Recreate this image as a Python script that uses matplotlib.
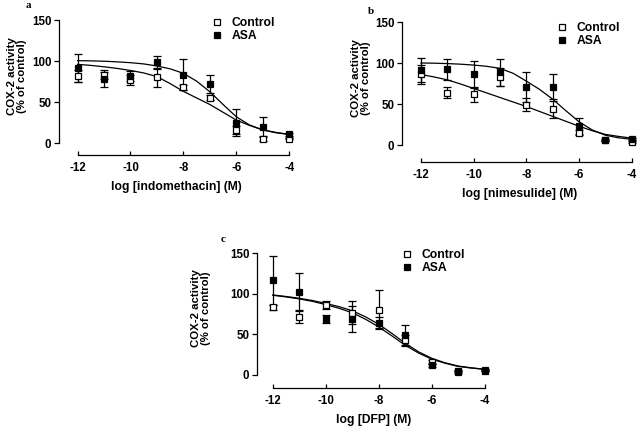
import matplotlib
matplotlib.use('Agg')
import matplotlib.pyplot as plt
import numpy as np

plt.rcParams['font.family'] = ['Liberation Sans', 'DejaVu Sans']
plt.rcParams['font.weight'] = 'bold'
plt.rcParams['font.size'] = 8.7
plt.rcParams['axes.unicode_minus'] = False

# concentrations (log M)
log_conc = [-12, -11, -10, -9, -8, -7, -6, -5, -4]
fit_x = [-12, -11.5, -11, -10.5, -10, -9.5, -9, -8.5, -8, -7.5, -7,
         -6.5, -6, -5.5, -5, -4.5, -4]

# panel a: indomethacin
ctrl_a = [81.5, 83.5, 77, 80, 68, 55.5, 15.5, 5, 5.5]
ctrl_a_err = [7, 6, 6, 12, 3, 3, 5, 2, 1]
asa_a = [91.5, 77.5, 82, 98.5, 83.5, 71.5, 25, 20, 10.5]
asa_a_err = [17, 9, 6, 8, 19, 11, 16, 12, 2]
ctrl_a_fit = [96, 94.7, 93, 91, 88.5, 85.5, 81, 72.5, 63, 55, 47, 37.5,
              28, 21.5, 16, 13, 10.5]
asa_a_fit = [100.5, 100.2, 99.8, 99, 98, 96.5, 94, 90.5, 85, 75.5, 62.5,
             47, 32, 22, 16, 12.5, 10.5]

# panel b: nimesulide
ctrl_b = [86, 64, 62, 82.5, 49, 43.5, 15, 5.5, 4]
ctrl_b_err = [11, 7, 9, 11, 8, 10, 3, 1, 1]
asa_b = [91.5, 92.5, 86, 88.5, 70.5, 71, 23, 6, 7]
asa_b_err = [15, 13, 17, 17, 18, 15, 10, 1, 1]
ctrl_b_fit = [86, 83, 79.5, 74.5, 69, 63.5, 58, 52.5, 47, 41, 35, 29, 23,
              17.5, 13, 10.5, 8.5]
asa_b_fit = [100, 99.8, 99.3, 98.6, 97.5, 96, 93.5, 87.5, 78, 68, 56, 42,
             28.5, 18.5, 12, 8.8, 7]

# panel c: DFP
ctrl_c = [83, 71.5, 86, 76.5, 80, 43, 16, 4, 6]
ctrl_c_err = [3, 7, 5, 14, 24, 6, 2, 1, 1]
asa_c = [116.5, 102.5, 68.5, 68.5, 64.5, 49, 12, 5.5, 5.5]
asa_c_err = [30, 23, 5, 16, 7, 13, 2, 1, 1]
ctrl_c_fit = [98.4, 96.5, 94.3, 91.5, 88, 84, 79, 71.5, 62.3, 51, 39, 28.5,
              20.5, 15, 11, 8.8, 7]
asa_c_fit = [98, 96, 93.5, 90.5, 86.5, 82, 76.5, 68.5, 59, 48, 36.5, 27,
             19.5, 14.5, 10.5, 8.5, 7]

W, H = 640, 430

# (letter, x label, axes rect, x min, y min, legend corner px, ylabel x px, letter px)
panels = [
    ('a', 'log [indomethacin] (M)', [0.0922, 0.6395, 0.368, 0.3177], -12.7, -14.6,
     (212, 17), 17, (26, 5),
     ctrl_a, ctrl_a_err, asa_a, asa_a_err, ctrl_a_fit, asa_a_fit),
    ('b', 'log [nimesulide] (M)', [0.628, 0.6233, 0.367, 0.3293], -12.72, -20.7,
     (557, 22), 361, (368, 12),
     ctrl_b, ctrl_b_err, asa_b, asa_b_err, ctrl_b_fit, asa_b_fit),
    ('c', 'log [DFP] (M)', [0.4016, 0.0977, 0.364, 0.3177], -12.6, -16.0,
     (402, 249), 201, (221, 239),
     ctrl_c, ctrl_c_err, asa_c, asa_c_err, ctrl_c_fit, asa_c_fit),
]

fig = plt.figure(figsize=(6.4, 4.3), dpi=100)

for (tag, xlab, rect, xmin, ymin, leg_px, ylab_px, tag_px,
     ctrl, ctrl_err, asa, asa_err, ctrl_fit, asa_fit) in panels:
    ax = fig.add_axes(rect)
    ax.plot(fit_x, ctrl_fit, color='black', lw=0.9, zorder=2)
    ax.plot(fit_x, asa_fit, color='black', lw=0.9, zorder=2)
    ax.errorbar(log_conc, ctrl, yerr=ctrl_err, fmt='none', ecolor='black',
                elinewidth=0.9, capsize=3, capthick=0.9, zorder=3)
    ax.errorbar(log_conc, asa, yerr=asa_err, fmt='none', ecolor='black',
                elinewidth=0.9, capsize=3, capthick=0.9, zorder=3)
    ax.plot(log_conc, ctrl, ls='none', marker='s', ms=4.7, mfc='white',
            mec='black', mew=0.9, label='Control', zorder=4)
    ax.plot(log_conc, asa, ls='none', marker='s', ms=4.7, mfc='black',
            mec='black', mew=0.9, label='ASA', zorder=5)

    ax.set_xlim(xmin, -3.8)
    ax.set_ylim(ymin, 152)
    for s in ['top', 'right']:
        ax.spines[s].set_visible(False)
    ax.spines['left'].set_bounds(0, 150)
    ax.spines['bottom'].set_bounds(-12, -4)
    ax.spines['left'].set_linewidth(0.9)
    ax.spines['bottom'].set_linewidth(0.9)
    ax.set_xticks([-12, -10, -8, -6, -4])
    ax.set_yticks([0, 50, 100, 150])
    ax.tick_params(axis='y', length=3.5, width=0.9, pad=2, labelsize=8.3)
    ax.tick_params(axis='x', direction='in', length=3, width=0.9, pad=5,
                   labelsize=8.3)
    ax.set_xlabel(xlab, fontsize=8.7, fontweight='bold', labelpad=5)
    ax.set_ylabel('COX-2 activity\n(% of control)', fontsize=8.2,
                  fontweight='bold', linespacing=1.1)
    # place y label centre in pixels (x) and at data value 82 (y)
    ax_left_px = rect[0] * W
    ax_w_px = rect[2] * W
    ylab_y = (82 - ymin) / (152 - ymin)
    ax.yaxis.set_label_coords((ylab_px - ax_left_px) / ax_w_px, ylab_y)
    ax.yaxis.label.set_va('center')

    ax.legend(loc='upper left', bbox_to_anchor=(leg_px[0] / W, 1 - leg_px[1] / H),
              bbox_transform=fig.transFigure, frameon=False,
              handlelength=0.8, handletextpad=0.85, labelspacing=0.1,
              borderpad=0, borderaxespad=0, fontsize=8.7)
    fig.text(tag_px[0] / W, 1 - tag_px[1] / H, tag, family='Liberation Serif',
             fontweight='bold', fontsize=8, ha='left', va='center')

fig.savefig('out.png', dpi=100)
